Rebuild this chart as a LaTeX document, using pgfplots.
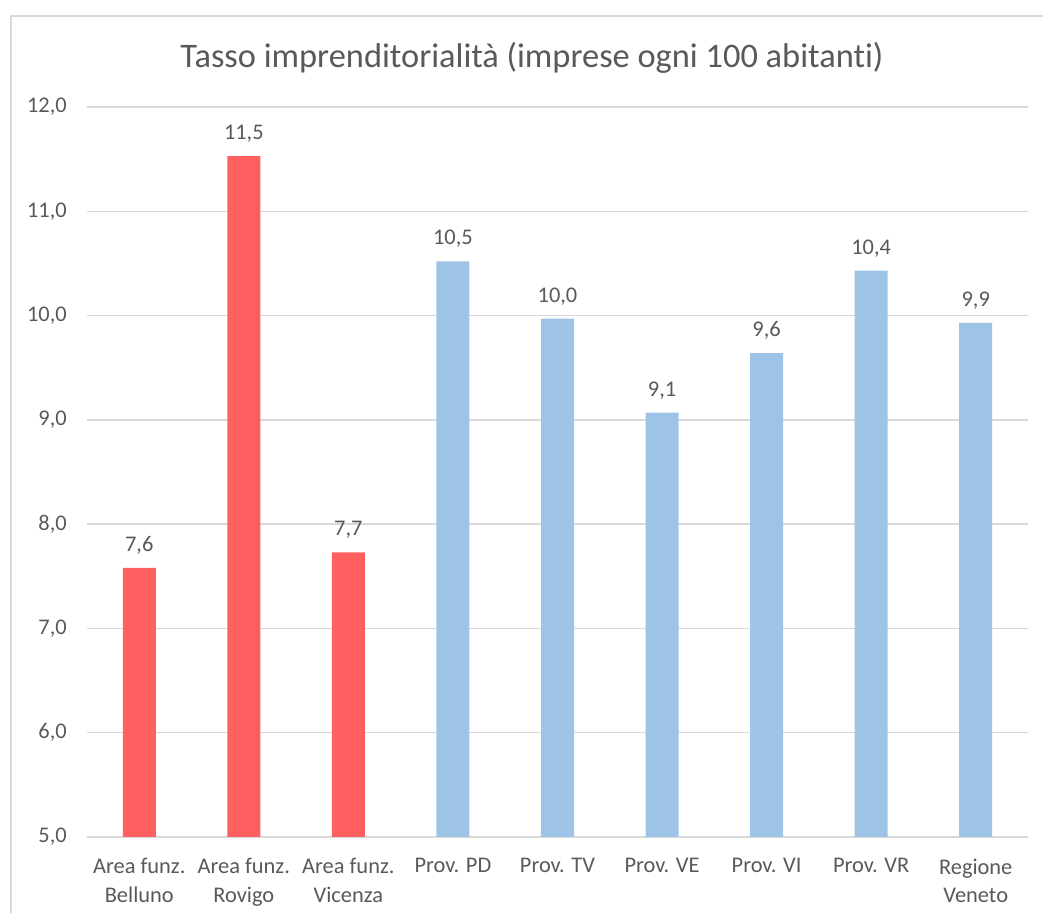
\documentclass[border=0pt]{standalone}
\usepackage{pgfplots}
\pgfplotsset{compat=1.18}
\usepackage{fontspec}
\setmainfont{Carlito}[Ligatures=NoCommon]
\definecolor{txt}{HTML}{595959}
\definecolor{grid}{HTML}{D9D9D9}
\definecolor{redbar}{HTML}{FF5F5F}
\definecolor{bluebar}{HTML}{9DC3E6}
\begin{document}
\begin{tikzpicture}
\begin{axis}[
  at={(0,0)}, anchor=south west,
  scale only axis,
  width=705.75pt, height=547.5pt,
  xmin=-0.5, xmax=8.5,
  ymin=5, ymax=12,
  ytick={5,6,...,12},
  xtick={0,...,8},
  xticklabels={{Area funz.\\Belluno},{Area funz.\\Rovigo},{Area funz.\\Vicenza},{Prov. PD},{Prov. TV},{Prov. VE},{Prov. VI},{Prov. VR},{Regione\\Veneto}},
  axis line style={draw=none},
  axis x line*=bottom,
  x axis line style={draw=grid, line width=1pt},
  major tick length=0pt,
  tick style={draw=none},
  ymajorgrids,
  grid style={draw=grid, line width=1pt},
  /pgf/number format/assume math mode=true,
  /pgf/number format/.cd, use comma, fixed, fixed zerofill, precision=1, 1000 sep={},
  /pgfplots/.cd,
  yticklabel style={anchor=east, inner sep=0pt, xshift=-15pt, font=\fontsize{16.8}{19}\selectfont, text=txt},
  xticklabel style={anchor=north, align=center, inner sep=0pt, yshift=-16pt, font=\fontsize{16.8}{21.5}\selectfont, text=txt},
  ybar, bar width=24.75pt, bar shift=0pt,
  nodes near coords,
  point meta=y,
  every node near coord/.append style={anchor=south, inner sep=0pt, yshift=10pt, font=\fontsize{16.8}{19}\selectfont, text=txt},
  clip=false,
]
\addplot[fill=redbar, draw=none] coordinates {(0,7.58) (1,11.53) (2,7.73)};
\addplot[fill=bluebar, draw=none] coordinates {(3,10.52) (4,9.97) (5,9.07) (6,9.64) (7,10.43) (8,9.93)};
\end{axis}
\node[text=txt, font=\fontsize{25.8}{30}\selectfont, anchor=center] at (333.75pt,584.25pt) {Tasso imprenditorialità (imprese ogni 100 abitanti)};
\draw[grid, line width=1.5pt] (-57pt,-70pt) -- (-57pt,615.75pt) -- (730pt,615.75pt);
\pgfresetboundingbox
\path[use as bounding box] (-65.25pt,-57pt) rectangle (717pt,627.75pt);
\end{tikzpicture}
\end{document}
